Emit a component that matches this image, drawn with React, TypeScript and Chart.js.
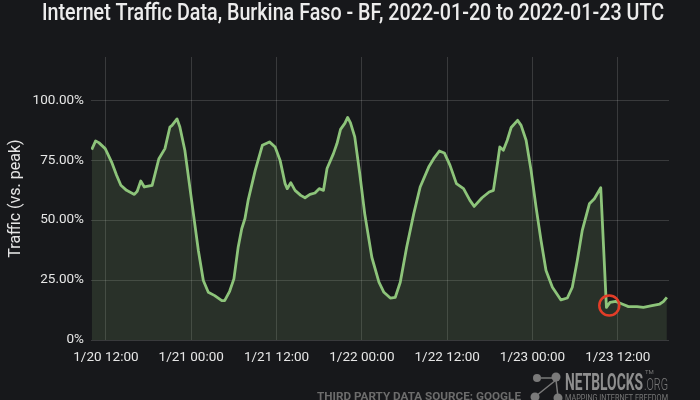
import React, { useEffect, useRef } from 'react';
import { Chart, registerables } from 'chart.js';

Chart.register(...registerables);

const TITLE = 'Internet Traffic Data, Burkina Faso - BF, 2022-01-20 to 2022-01-23 UTC';
const Y_TITLE = 'Traffic (vs. peak)';
const SOURCE = 'THIRD PARTY DATA SOURCE: GOOGLE';
const BRAND = 'NETBLOCKS';
const BRAND_SUFFIX = '.ORG';
const BRAND_TAG = 'MAPPING INTERNET FREEDOM';

// hours since 2022-01-20 00:00 UTC
const hours = [
  10.0, 10.55, 11.0, 11.9, 12.8, 13.5, 14.1, 14.9, 16.0, 16.4, 16.9, 17.4, 18.5, 19.45, 20.3, 21.0, 21.3, 22.0, 22.4, 23.1,
  24.05, 25.0, 25.7, 26.4, 27.3, 28.3, 28.7, 29.4, 30.0, 30.6, 31.1, 31.55, 32.0, 33.0, 34.0, 35.0, 35.8, 36.5, 37.2, 37.5,
  38.0, 38.6, 39.4, 40.0, 40.7, 41.4, 42.0, 42.6, 43.1, 44.0, 44.5, 45.0, 45.6, 46.0, 46.4, 47.0, 47.7, 48.4, 49.4, 50.4,
  51.1, 52.0, 52.7, 53.4, 54.3, 55.3, 56.2, 57.4, 58.1, 58.9, 59.6, 60.4, 61.3, 62.3, 63.2, 63.8, 64.9, 65.9, 66.5, 67.1,
  67.4, 67.9, 68.45, 69.0, 69.9, 70.4, 71.1, 71.8, 72.5, 73.2, 73.9, 74.8, 76.0, 76.9, 77.6, 78.3, 79.0, 80.0, 80.7, 81.6,
  82.4, 82.9, 83.7, 84.6, 85.5, 86.7, 87.6, 88.8, 89.9, 90.4, 90.9,
];
// traffic, % of peak
const traffic = [
  79.4, 83.0, 82.3, 79.8, 74.2, 68.7, 64.5, 62.4, 60.7, 62.0, 66.3, 63.8, 64.5, 75.6, 79.8, 88.8, 89.5, 92.2, 88.8, 79.1,
  58.2, 37.3, 24.8, 19.9, 18.5, 16.4, 16.4, 20.3, 25.5, 38.7, 46.4, 50.6, 58.2, 70.7, 81.2, 82.6, 80.5, 74.9, 65.2, 63.1,
  65.6, 62.4, 60.3, 59.3, 60.7, 61.3, 63.1, 62.4, 71.5, 77.7, 81.9, 87.8, 90.3, 92.8, 90.5, 84.7, 69.4, 52.7, 34.5, 24.1,
  19.9, 17.5, 17.8, 24.1, 38.7, 52.7, 63.8, 72.1, 75.6, 78.8, 78.0, 72.8, 65.2, 63.1, 58.2, 55.7, 59.3, 61.7, 62.4, 74.2,
  80.5, 79.1, 83.3, 88.6, 91.6, 89.5, 83.3, 70.7, 55.4, 41.5, 29.0, 22.0, 16.7, 17.5, 22.0, 33.1, 45.7, 56.8, 58.9, 63.5,
  13.6, 15.7, 16.1, 15.0, 13.9, 13.9, 13.6, 14.3, 15.0, 16.0, 17.8,
];

const xTickHours = [12, 24, 36, 48, 60, 72, 84];
const xTickLabels = ['1/20 12:00', '1/21 00:00', '1/21 12:00', '1/22 00:00', '1/22 12:00', '1/23 00:00', '1/23 12:00'];
const yTickValues = [0, 25, 50, 75, 100];
const yTickLabels = ['0%', '25.00%', '50.00%', '75.00%', '100.00%'];

// highlighted point (red circle)
const markerHour = [82.8];
const markerValue = [14.4];

const BG = '#17181b';
const TEXT = '#e6e6e6';
const GRID = 'rgba(255,255,255,0.15)';
const LINE = '#8dc47a';
const FILL = 'rgba(125,165,105,0.18)';
const RED = '#e23d28';

function drawFitted(ctx: CanvasRenderingContext2D, text: string, font: string, x: number, y: number, width: number, align: 'left' | 'center') {
  ctx.save();
  ctx.font = font;
  const w = ctx.measureText(text).width;
  const s = width / w;
  ctx.textBaseline = 'alphabetic';
  ctx.textAlign = 'left';
  const left = align === 'center' ? x - width / 2 : x;
  ctx.translate(left, y);
  ctx.scale(s, 1);
  ctx.fillText(text, 0, 0);
  ctx.restore();
}

const decor = {
  id: 'decor',
  beforeDraw(chart: any) {
    const { ctx, width, height } = chart;
    ctx.save();
    ctx.fillStyle = BG;
    ctx.fillRect(0, 0, width, height);
    ctx.restore();
  },
  afterDraw(chart: any) {
    const ctx: CanvasRenderingContext2D = chart.ctx;
    ctx.save();
    ctx.fillStyle = '#ececec';
    drawFitted(ctx, TITLE, '500 23px Roboto', 353, 20, 622, 'center');

    ctx.fillStyle = '#6c6c6c';
    drawFitted(ctx, SOURCE, 'bold 11px Roboto', 317, 400, 204, 'left');

    ctx.fillStyle = '#8e8e8e';
    drawFitted(ctx, BRAND, 'bold 23px Roboto', 565, 390, 78, 'left');
    ctx.fillStyle = '#7a7a7a';
    drawFitted(ctx, BRAND_SUFFIX, '300 16px Roboto', 644, 390, 24, 'left');
    ctx.font = '6px Roboto';
    ctx.fillText('TM', 645, 374);
    ctx.fillStyle = '#777777';
    drawFitted(ctx, BRAND_TAG, '9px Roboto', 565, 401, 103, 'left');

    // logo nodes
    ctx.strokeStyle = '#7a7a7a';
    ctx.fillStyle = '#7a7a7a';
    ctx.lineWidth = 1.5;
    ctx.beginPath();
    ctx.moveTo(541, 378); ctx.lineTo(552, 378);
    ctx.moveTo(556, 380); ctx.lineTo(536, 396);
    ctx.moveTo(556, 380); ctx.lineTo(558, 397);
    ctx.stroke();
    const nodes = [[537, 378, 4], [556, 377, 4.5], [535, 397, 4.5], [558, 398, 4.5]];
    nodes.forEach(([x, y, r]) => { ctx.beginPath(); ctx.arc(x, y, r, 0, Math.PI * 2); ctx.fill(); });
    ctx.restore();
  },
};

export default function App() {
  const ref = useRef<HTMLCanvasElement | null>(null);
  useEffect(() => {
    if (!ref.current) return;
    const chart = new Chart(ref.current, {
      type: 'line',
      data: {
        datasets: [
          {
            data: markerHour.map((h, i) => ({ x: h, y: markerValue[i] })),
            showLine: false,
            pointRadius: 10,
            pointBorderWidth: 2.5,
            pointBorderColor: RED,
            pointBackgroundColor: 'rgba(0,0,0,0)',
            order: 0,
          },
          {
            data: hours.map((h, i) => ({ x: h, y: traffic[i] })),
            borderColor: LINE,
            borderWidth: 2.8,
            backgroundColor: FILL,
            fill: 'origin',
            pointRadius: 0,
            tension: 0,
            borderJoinStyle: 'round',
            order: 1,
          },
        ],
      },
      options: {
        responsive: false,
        animation: false,
        layout: { padding: { top: 57, right: 31, bottom: 0, left: 0 } },
        plugins: { legend: { display: false }, tooltip: { enabled: false }, title: { display: false } },
        scales: {
          x: {
            type: 'linear',
            min: 9.9,
            max: 91.2,
            afterBuildTicks: (s: any) => { s.ticks = xTickHours.map((v) => ({ value: v })); },
            afterFit: (s: any) => { s.height = 60; },
            grid: { color: GRID, lineWidth: 1, drawTicks: false },
            border: { display: false },
            ticks: {
              color: TEXT,
              font: { family: 'Roboto', size: 13.5 },
              padding: 10,
              maxRotation: 0,
              autoSkip: false,
              callback: (v: any) => { const i = xTickHours.indexOf(Number(v)); return i >= 0 ? xTickLabels[i] : ''; },
            },
          },
          y: {
            min: 0,
            max: 118,
            afterBuildTicks: (s: any) => { s.ticks = yTickValues.map((v) => ({ value: v })); },
            afterFit: (s: any) => { s.width = 91; },
            grid: { color: GRID, lineWidth: 1, drawTicks: false },
            border: { display: false },
            title: { display: true, text: Y_TITLE, color: TEXT, font: { family: 'Roboto', size: 16 }, padding: { top: 6, bottom: 0 } },
            ticks: {
              color: TEXT,
              font: { family: 'Roboto', size: 13.5 },
              padding: 7,
              callback: (v: any) => { const i = yTickValues.indexOf(Number(v)); return i >= 0 ? yTickLabels[i] : ''; },
            },
          },
        },
      },
      plugins: [decor],
    });
    return () => chart.destroy();
  }, []);
  return (
    <div style={{ position: 'fixed', left: 0, top: 0, width: 700, height: 400, background: BG }}>
      <canvas ref={ref} width={700} height={400} style={{ display: 'block' }} />
    </div>
  );
}
